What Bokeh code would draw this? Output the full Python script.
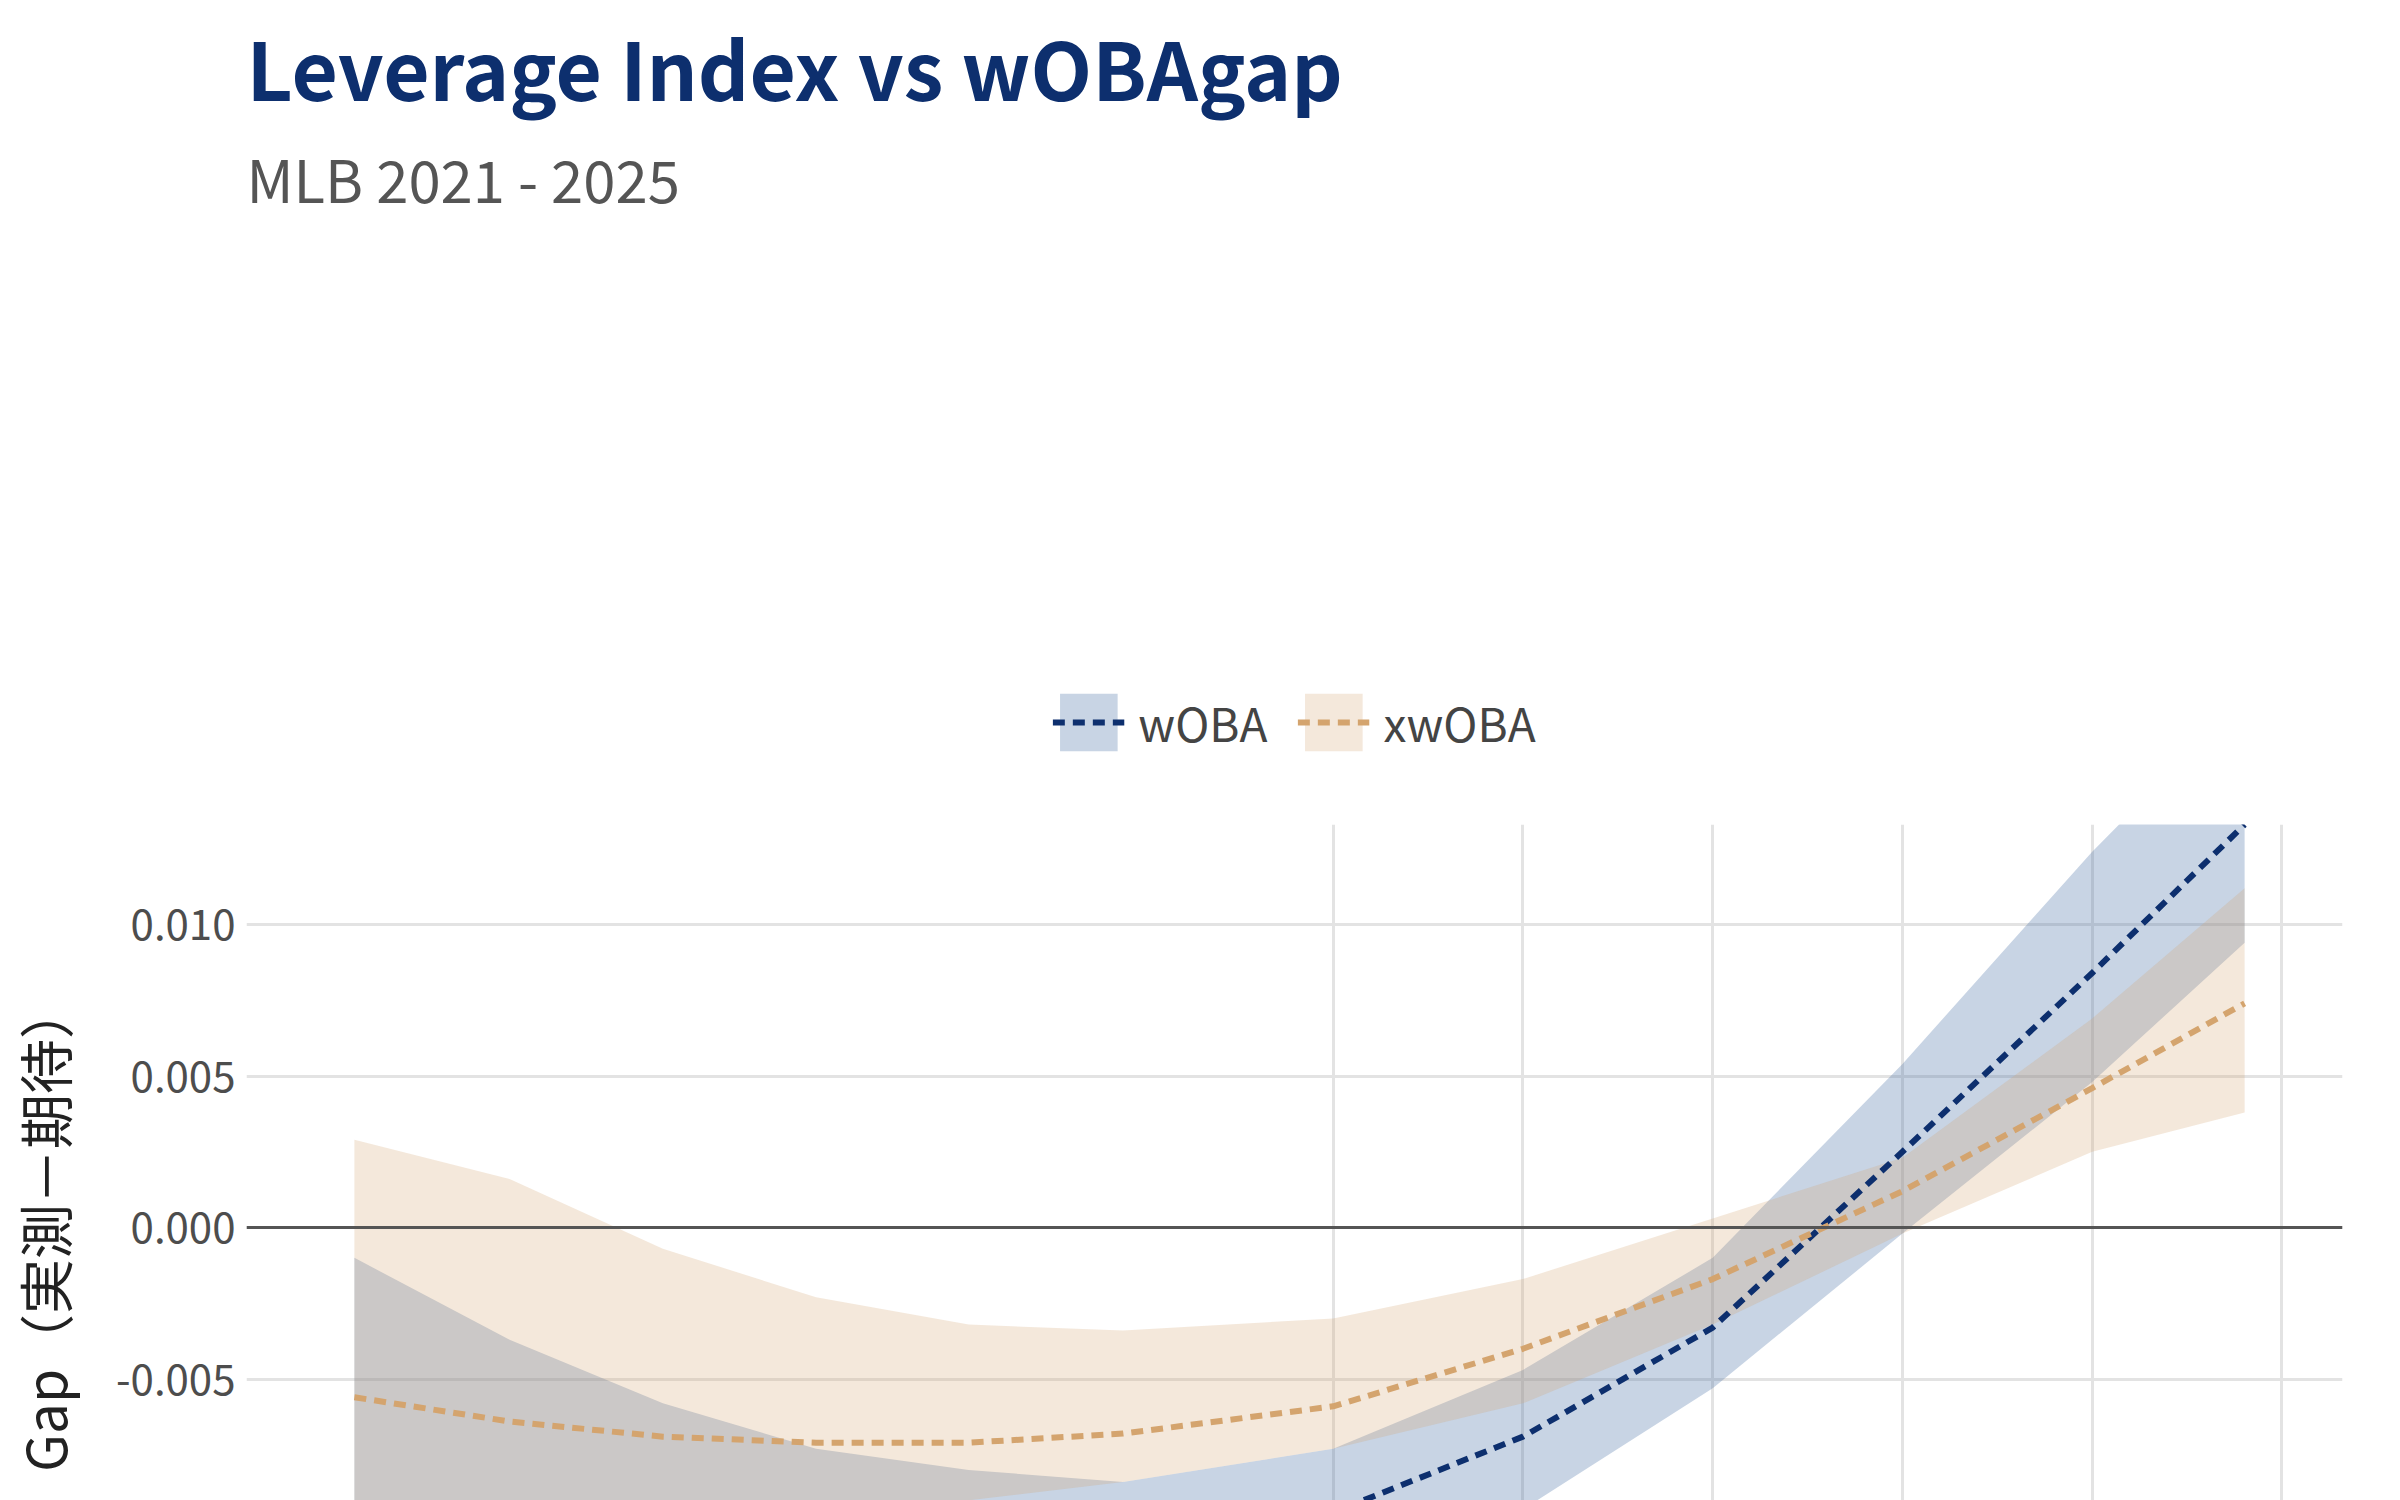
from bokeh.plotting import figure
from bokeh.models import FixedTicker, Span, Legend, LegendItem, Title, NumeralTickFormatter, ColumnDataSource, Range1d
from bokeh.embed import file_html
from bokeh.resources import INLINE

li = [0.0035, 0.00617, 0.0108, 0.0189, 0.033, 0.058, 0.125, 0.25, 0.5, 1.0, 2.0, 3.49]
woba = [-0.0118, -0.0121, -0.0122, -0.0122, -0.0118, -0.0109, -0.0094, -0.0069, -0.0033, 0.0025, 0.0084, 0.0133]
woba_hi = [-0.0010, -0.0037, -0.0058, -0.0073, -0.0080, -0.0084, -0.0073, -0.0047, -0.0010, 0.0054, 0.0124, 0.0175]
woba_lo = [-0.0159, -0.0154, -0.0148, -0.0143, -0.0139, -0.0134, -0.0121, -0.0093, -0.0053, -0.0002, 0.0048, 0.0094]
xwoba = [-0.0056, -0.0064, -0.0069, -0.0071, -0.0071, -0.0068, -0.0059, -0.0040, -0.0017, 0.0012, 0.0046, 0.0074]
xwoba_hi = [0.0029, 0.0016, -0.0007, -0.0023, -0.0032, -0.0034, -0.0030, -0.0017, 0.0003, 0.0023, 0.0069, 0.0112]
xwoba_lo = [-0.0133, -0.0123, -0.0108, -0.0098, -0.0090, -0.0084, -0.0073, -0.0058, -0.0032, -0.0002, 0.0025, 0.0038]
x_ticks = [0.125, 0.25, 0.5, 1.0, 2.0, 4.0]
y_ticks = [-0.010, -0.005, 0.0, 0.005, 0.010]

F = "Noto Sans CJK JP"
BLUE = "#0d2f6e"
TAN = "#d4a46e"

src = ColumnDataSource(dict(x=li, w=woba, wh=woba_hi, wl=woba_lo, xw=xwoba, xh=xwoba_hi, xl=xwoba_lo))

p = figure(frame_width=2096, frame_height=807, x_axis_type="log", output_backend="svg", toolbar_location=None,
           x_range=Range1d(0.00236, 4.99), y_range=Range1d(-0.01333, 0.0133),
           min_border_left=10, min_border_right=16, min_border_top=10, min_border_bottom=10,
           outline_line_color=None)

bw = p.varea(x="x", y1="wl", y2="wh", source=src, fill_color="#4a6fa5", fill_alpha=0.3)
bx = p.varea(x="x", y1="xl", y2="xh", source=src, fill_color=TAN, fill_alpha=0.25)
p.add_layout(Span(location=0, dimension="width", line_color="#555555", line_width=3))
lw = p.line(x="x", y="w", source=src, line_color=BLUE, line_width=6, line_dash="12 8")
lx = p.line(x="x", y="xw", source=src, line_color=TAN, line_width=6, line_dash="12 8")

p.xaxis.ticker = FixedTicker(ticks=x_ticks)
p.xaxis.formatter = NumeralTickFormatter(format="0.000")
p.yaxis.ticker = FixedTicker(ticks=y_ticks)
p.yaxis.formatter = NumeralTickFormatter(format="0.000")
for ax in (p.xaxis, p.yaxis):
    ax.axis_line_color = None
    ax.major_tick_line_color = None
    ax.minor_tick_line_color = None
    ax.major_label_text_font = F
    ax.major_label_text_font_size = "42px"
    ax.major_label_text_color = "#4d4d4d"
    ax.axis_label_text_font = F
    ax.axis_label_text_font_size = "55px"
    ax.axis_label_text_font_style = "normal"
    ax.axis_label_text_color = "#222222"
p.xaxis.axis_label = "Leverage Index"
p.yaxis.axis_label = "Gap（実測－期待）"
p.yaxis.axis_label_standoff = 30
p.grid.grid_line_color = "#e3e3e3"
p.grid.grid_line_width = 3
p.xgrid.minor_grid_line_color = None

p.add_layout(Title(text="Data：Baseball Savant", align="right", text_font=F, text_font_size="36px",
                   text_color="#777777", text_font_style="normal"), "below")

leg = Legend(items=[LegendItem(label="wOBA", renderers=[bw, lw]), LegendItem(label="xwOBA", renderers=[bx, lx])],
             orientation="horizontal", location="center", label_text_font=F, label_text_font_size="46px",
             glyph_width=72, glyph_height=72, spacing=30, border_line_color=None, margin=50,
             label_standoff=14)
p.add_layout(leg, "above")
p.add_layout(Title(text="MLB 2021 - 2025", text_font=F, text_font_size="58px", text_color="#555555",
                   text_font_style="normal"), "above")
p.add_layout(Title(text="Leverage Index vs wOBAgap", text_font=F, text_font_size="80px", text_color=BLUE,
                   text_font_style="bold"), "above")

open("out.html", "w").write(file_html(p, INLINE))
